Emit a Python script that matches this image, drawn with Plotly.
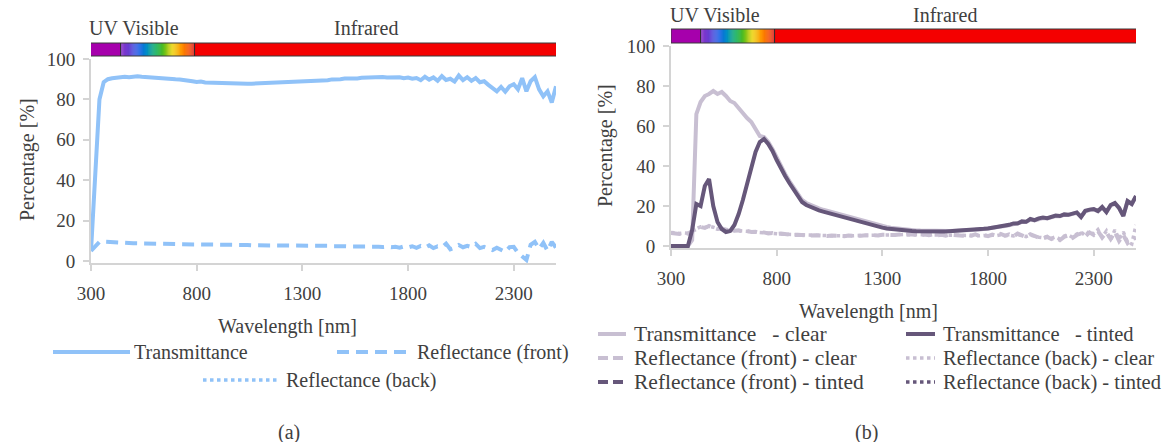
import plotly.graph_objects as go

W, H = 1165, 442
FONT = "'Liberation Serif', 'Times New Roman', serif"
TXT = "#404040"

# ---------------- data ----------------
wavelength = list(range(300, 2501, 20))  # nm, 111 points

# panel (a)
trans_a = [5, 45, 80, 88.5, 90, 90.5, 90.8, 91, 91.2, 91,
           91.3, 91.4, 91.2, 91, 91.1, 90.8, 90.7, 90.5, 90.4, 90.2,
           90, 89.9, 89.7, 89.4, 89, 88.6, 88.8, 88.4, 88.3, 88.1,
           88, 87.9, 87.8, 87.8, 87.7, 87.7, 87.8, 87.7, 87.8, 87.9,
           87.9, 88, 88.1, 88.1, 88.3, 88.4, 88.4, 88.5, 88.7, 88.8,
           88.8, 89, 89.1, 89, 89.4, 89.3, 89.5, 89.9, 89.7, 90,
           90.3, 90.2, 90.5, 90.4, 90.7, 90.8, 90.6, 91, 90.9, 91.1,
           90.8, 91, 90.7, 91, 90.5, 90.8, 90.2, 90.6, 89.5, 91.2,
           89.8, 90.9, 89.2, 91.5, 89.6, 90.2, 88.8, 91.8, 89.5, 91,
           89.2, 90.6, 88.5, 89, 87.2, 85.5, 84, 86.2, 83.8, 86.5,
           87.5, 85, 90.5, 84, 89, 91, 85, 81.5, 84, 78.5,
           86.5]
refl_front_a = [5, 7.5, 9.4, 9.6, 9.4, 9.2, 9.1, 9, 9, 8.9,
                8.8, 8.8, 8.7, 8.6, 8.6, 8.6, 8.5, 8.5, 8.4, 8.4,
                8.4, 8.3, 8.3, 8.3, 8.2, 8.2, 8.2, 8.1, 8.1, 8.1,
                8, 8, 8, 8, 7.9, 7.9, 7.9, 7.9, 7.8, 7.8,
                7.8, 7.8, 7.8, 7.7, 7.7, 7.7, 7.7, 7.6, 7.6, 7.6,
                7.6, 7.6, 7.5, 7.5, 7.5, 7.4, 7.5, 7.3, 7.4, 7.3,
                7.3, 7.2, 7.3, 7.2, 7.1, 7.2, 7, 7.2, 7, 6.9,
                7.1, 6.8, 7, 6.6, 7.2, 6.7, 7.3, 6.5, 7.4, 6.6,
                7.8, 6.4, 7.2, 6.8, 8.6, 5.8, 6.5, 7.9, 6.8, 7.5,
                6.9, 8.5, 6.4, 7, 6.2, 5.4, 6.6, 5.6, 4.5, 6.8,
                7, 4, 2.5, 0.5, 8, 9.5, 6, 9, 5, 9.5,
                6.5]

# panel (b)
trans_clear = [0, 0, 0, 0, 0, 3, 66, 72, 75, 76,
               77.5, 76, 77, 75, 72.5, 71.5, 69, 66, 64, 62,
               58.5, 55, 54.5, 52, 48.5, 44, 39.5, 36, 32.5, 29.5,
               26, 23, 21.5, 20.5, 19.5, 18.8, 18.1, 17.5, 16.9, 16.3,
               15.7, 15, 14.4, 13.8, 13.2, 12.6, 12, 11.4, 10.9, 10.4,
               9.9, 9.5, 9.1, 8.8, 8.5, 8.3, 8.1, 7.9, 7.8, 7.7,
               7.6, 7.5, 7.5, 7.5, 7.4, 7.5, 7.5, 7.6, 7.6, 7.7,
               7.8, 8, 8.1, 8.3, 8.5, 8.7, 9, 9.3, 9.6, 10,
               10.4, 11, 11.1, 12, 12, 13.2, 12.8, 13.6, 14, 13.8,
               14.6, 15, 14.9, 15.6, 15.5, 16.1, 16.6, 14.6, 17.3, 18,
               18.3, 17.4, 19.2, 17, 20.2, 21.2, 19, 15.2, 22.2, 21,
               24.8]
trans_tinted = [0, 0, 0, 0, 0, 8, 21, 20, 30, 33.5,
                20, 12, 8.5, 7, 7.5, 10.5, 16, 23, 31, 40,
                47, 52, 53.5, 51, 47.5, 43, 38.5, 35, 31.5, 28.5,
                25, 22, 20.5, 19.5, 18.5, 17.8, 17.2, 16.6, 16, 15.4,
                14.8, 14.2, 13.6, 13, 12.4, 11.8, 11.2, 10.6, 10.1, 9.6,
                9.2, 8.8, 8.5, 8.2, 8, 7.8, 7.6, 7.5, 7.4, 7.3,
                7.3, 7.2, 7.2, 7.3, 7.2, 7.3, 7.4, 7.5, 7.5, 7.6,
                7.8, 8, 8.1, 8.3, 8.6, 8.8, 9.1, 9.5, 9.7, 10.2,
                10.6, 11.3, 11.2, 12.3, 12.1, 13.5, 12.9, 13.8, 14.2, 13.9,
                14.8, 15.2, 15, 15.8, 15.6, 16.3, 16.8, 14.5, 17.6, 18.2,
                18.5, 17.5, 19.5, 17, 20.5, 21.5, 19, 15, 22.5, 21,
                25]
refl_front_clear = [6.5, 6.2, 6, 6.5, 6.2, 7.5, 8.5, 9.5, 9, 10,
                    9.2, 8.5, 8.8, 8, 8.3, 7.6, 7.8, 7.2, 7.5, 7,
                    7.1, 6.6, 6.8, 6.3, 6.5, 6, 6.2, 5.8, 5.9, 5.5,
                    5.6, 5.3, 5.5, 5.2, 5.4, 5.1, 5.3, 5, 5.2, 5,
                    5.1, 4.9, 5.2, 5, 5.3, 5.1, 5.4, 5.2, 5.5, 5.3,
                    5.6, 5.4, 5.7, 5.5, 5.8, 5.5, 5.9, 5.6, 5.8, 5.5,
                    5.7, 5.4, 5.8, 5.3, 5.6, 5.2, 5.7, 5.4, 5.5, 5.1,
                    5.6, 5.2, 5.8, 5, 5.5, 4.9, 5.7, 5.1, 6, 5.2,
                    5.8, 4.8, 6.2, 5.4, 4.5, 5.9, 5, 4.2, 3.8, 4.5,
                    3.5, 4.2, 3, 4.6, 5.2, 4, 5.5, 6.3, 4.8, 6.8,
                    5.5, 7.5, 4.2, 6.8, 3.5, 7, 2.5, 5.5, 1.5, 3.5,
                    4]
refl_back_clear = [6.8, 6.4, 6.3, 6.6, 6.4, 7.6, 8.8, 9.6, 9.3, 9.8,
                   9.4, 8.7, 8.6, 8.2, 8.1, 7.8, 7.6, 7.4, 7.3, 7.1,
                   6.9, 6.8, 6.6, 6.5, 6.3, 6.2, 6, 5.9, 5.8, 5.6,
                   5.5, 5.4, 5.4, 5.3, 5.3, 5.2, 5.2, 5.1, 5.1, 5.1,
                   5, 5, 5.1, 5.1, 5.2, 5.2, 5.3, 5.3, 5.4, 5.4,
                   5.5, 5.5, 5.6, 5.6, 5.6, 5.7, 5.7, 5.7, 5.6, 5.6,
                   5.6, 5.5, 5.5, 5.5, 5.4, 5.4, 5.4, 5.3, 5.3, 5.3,
                   5.3, 5.2, 5.4, 5.1, 5.3, 5, 5.4, 5.2, 5.6, 5.1,
                   5.4, 5, 5.8, 5.1, 4.7, 5.5, 4.8, 4.4, 4.1, 4.8,
                   3.8, 4.6, 3.4, 5, 5.6, 4.3, 6, 7, 5.2, 7.5,
                   6, 8.2, 4.5, 7.5, 3, 8, 3.5, 7, 2, 1,
                   10.5]

x_ticks = [300, 800, 1300, 1800, 2300]
y_ticks = [0, 20, 40, 60, 80, 100]

# ---------------- styles ----------------
BLUE = "#90c2f8"
CLEAR = "#c8bfd2"
TINT = "#66577a"


def px(x):
    return x / W


def py(y):
    return 1 - y / H


fig = go.Figure()
# panel (a)
fig.add_trace(go.Scatter(x=wavelength, y=refl_front_a, mode="lines", xaxis="x", yaxis="y",
                         line=dict(color=BLUE, width=4, dash="12px,7px"), showlegend=False))
fig.add_trace(go.Scatter(x=wavelength, y=trans_a, mode="lines", xaxis="x", yaxis="y",
                         line=dict(color=BLUE, width=4), showlegend=False))
# panel (b)
fig.add_trace(go.Scatter(x=wavelength, y=refl_back_clear, mode="lines", xaxis="x2", yaxis="y2",
                         line=dict(color=CLEAR, width=3.5, dash="dot"), showlegend=False))
fig.add_trace(go.Scatter(x=wavelength, y=refl_front_clear, mode="lines", xaxis="x2", yaxis="y2",
                         line=dict(color=CLEAR, width=4, dash="10px,6px"), showlegend=False))
fig.add_trace(go.Scatter(x=wavelength, y=trans_clear, mode="lines", xaxis="x2", yaxis="y2",
                         line=dict(color=CLEAR, width=4), showlegend=False))
fig.add_trace(go.Scatter(x=wavelength, y=trans_tinted, mode="lines", xaxis="x2", yaxis="y2",
                         line=dict(color=TINT, width=4), showlegend=False))

axis_common = dict(
    showgrid=False, zeroline=False, showline=True, linecolor="#d4d4d4", linewidth=2,
    ticks="outside", ticklen=6, tickcolor="#d4d4d4", tickwidth=2, automargin=False,
    tickfont=dict(family=FONT, size=19, color=TXT),
)

fig.update_layout(
    width=W, height=H, margin=dict(l=0, r=0, t=0, b=0, pad=0, autoexpand=False),
    paper_bgcolor="white", plot_bgcolor="white",
    xaxis=dict(domain=[px(91), px(556)], range=[300, 2500], anchor="y",
               tickvals=x_ticks, ticklabelstandoff=6, **axis_common),
    yaxis=dict(domain=[py(263), py(59)], range=[-1, 100], anchor="x",
               tickvals=y_ticks, ticklabelstandoff=4, **axis_common),
    xaxis2=dict(domain=[px(671), px(1136)], range=[300, 2500], anchor="y2",
                tickvals=x_ticks, ticklabelstandoff=6, **axis_common),
    yaxis2=dict(domain=[py(248), py(46)], range=[-1, 100], anchor="x2",
                tickvals=y_ticks, ticklabelstandoff=4, **axis_common),
)

# ---------------- spectrum bars ----------------
vis_stops = [(0.00, (140, 50, 200)), (0.12, (100, 60, 210)), (0.25, (20, 90, 230)),
             (0.35, (0, 140, 200)), (0.48, (0, 170, 80)), (0.58, (90, 190, 30)),
             (0.70, (235, 210, 0)), (0.82, (255, 150, 0)), (0.92, (245, 80, 0)),
             (1.00, (220, 20, 20))]


def vis_color(f):
    for (f0, c0), (f1, c1) in zip(vis_stops[:-1], vis_stops[1:]):
        if f0 <= f <= f1:
            t = (f - f0) / (f1 - f0) if f1 > f0 else 0
            return "rgb(%d,%d,%d)" % tuple(round(a + (b - a) * t) for a, b in zip(c0, c1))
    return "rgb(220,20,20)"


UV_END, VIS_END = 440, 790
shapes = []


def spectrum_bar(xref, x_start, x_end, ytop, ybot):
    y0, y1 = py(ybot), py(ytop)
    base = dict(xref=xref, yref="paper", y0=y0, y1=y1, layer="above")
    shapes.append(dict(type="rect", x0=x_start, x1=UV_END, fillcolor="#a600ac", line=dict(width=0), **base))
    n = 70
    step = (VIS_END - UV_END) / n
    for i in range(n):
        shapes.append(dict(type="rect", x0=UV_END + i * step, x1=UV_END + (i + 1) * step + 0.8,
                           fillcolor=vis_color((i + 0.5) / n), line=dict(width=0), **base))
    shapes.append(dict(type="rect", x0=VIS_END, x1=x_end, fillcolor="#f40000", line=dict(width=0), **base))
    shapes.append(dict(type="rect", x0=x_start, x1=x_end, fillcolor="rgba(0,0,0,0)",
                       line=dict(width=1, color="#3a3a3a"), **base))
    for xv in (UV_END, VIS_END):
        shapes.append(dict(type="line", x0=xv, x1=xv, line=dict(width=1, color="#2a2a2a"), **base))


spectrum_bar("x", 292, 2505, 43, 56)
spectrum_bar("x2", 300, 2518, 29, 43)

annotations = []


def text(x, y, s, anchor="left", size=20):
    annotations.append(dict(x=px(x), y=py(y), xref="paper", yref="paper", text=s, showarrow=False,
                            xanchor=anchor, yanchor="middle",
                            font=dict(family=FONT, size=size, color=TXT)))


def legend_line(x0, x1, y, color, dash, width=4):
    shapes.append(dict(type="line", xref="paper", yref="paper", x0=px(x0), x1=px(x1), y0=py(y), y1=py(y),
                       line=dict(color=color, width=width, dash=dash)))


# region labels
text(87, 28, "UV Visible")
text(366, 28, "Infrared", anchor="center")
text(668, 15, "UV Visible")
text(945, 15, "Infrared", anchor="center")

# y axis titles
for xx, yy in ((27, 160), (606, 146)):
    annotations.append(dict(x=px(xx), y=py(yy), xref="paper", yref="paper", text="Percentage [%]",
                            showarrow=False, textangle=-90, xanchor="center", yanchor="middle",
                            font=dict(family=FONT, size=20, color=TXT)))

# x axis titles
text(287, 326, "Wavelength [nm]", anchor="center")
text(868, 311, "Wavelength [nm]", anchor="center")

# legend (a)
legend_line(53, 130, 352, BLUE, "solid")
text(132, 352, "Transmittance")
legend_line(337, 413, 352, BLUE, "12px,7px")
text(415, 352, "Reflectance (front)")
legend_line(203, 279, 380, BLUE, "dot", width=3.5)
text(284, 380, "Reflectance (back)")

# legend (b)
LS1, LS2 = 21.5, 20.5
rows = [334, 358, 382]
legend_line(598, 626, rows[0], CLEAR, "solid")
text(632, rows[0], "Transmittance\u00a0\u00a0 - clear", size=LS1)
legend_line(906, 935, rows[0], TINT, "solid")
text(941, rows[0], "Transmittance\u00a0\u00a0 - tinted", size=LS2)
legend_line(598, 626, rows[1], CLEAR, "10px,5px")
text(632, rows[1], "Reflectance (front) - clear", size=LS1)
legend_line(906, 935, rows[1], CLEAR, "dot", width=3.5)
text(941, rows[1], "Reflectance (back) - clear", size=LS2)
legend_line(598, 626, rows[2], TINT, "10px,5px")
text(632, rows[2], "Reflectance (front) - tinted", size=LS1)
legend_line(906, 935, rows[2], TINT, "dot", width=3.5)
text(941, rows[2], "Reflectance (back) - tinted", size=LS2)

# panel captions
text(289, 432, "(a)", anchor="center")
text(866, 432, "(b)", anchor="center")

fig.update_layout(shapes=shapes, annotations=annotations)
fig.write_html("out.html", config={"displayModeBar": False},
               post_script="document.body.style.margin='0px';document.body.style.overflow='hidden';")
